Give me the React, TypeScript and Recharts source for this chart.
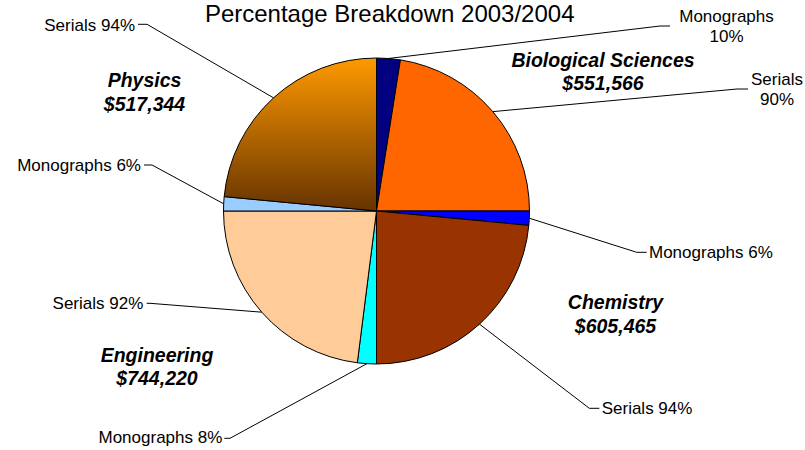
import React from "react";
import { PieChart, Pie, Cell } from "recharts";

const departments = ["Biological Sciences", "Chemistry", "Engineering", "Physics"];
const departmentTotals = ["$551,566", "$605,465", "$744,220", "$517,344"];
const monographPct = [10, 6, 8, 6];
const serialPct = [90, 94, 92, 94];
const monographColors = ["#000080", "#0000FF", "#00FFFF", "#99CCFF"];
const serialColors = ["#FF6600", "#993300", "#FFCC99", "url(#physicsFill)"];

const FONT = "'Liberation Sans', Arial, sans-serif";

// leader line elbow / end and text spot, relative to pie centre
const labelLayout = [
  { ex: 283.5, ey: -185, lx: 293.5, tx: 350, ty: -189.3, anchor: "middle", stacked: true },
  { ex: 360.5, ey: -122, lx: 371.5, tx: 400.5, ty: -126, anchor: "middle", stacked: true },
  { ex: 260.2, ey: 41.3, lx: 270.2, tx: 272.5, ty: 47.3, anchor: "start", stacked: false },
  { ex: 212.8, ey: 197.3, lx: 222.8, tx: 225.2, ty: 203.3, anchor: "start", stacked: false },
  { ex: -146.5, ey: 227.3, lx: -152.2, tx: -154.2, ty: 232.3, anchor: "end", stacked: false },
  { ex: -226.5, ey: 92.3, lx: -229.8, tx: -233.2, ty: 98.3, anchor: "end", stacked: false },
  { ex: -224.5, ey: -46, lx: -232.5, tx: -235.5, ty: -40, anchor: "end", stacked: false },
  { ex: -229.5, ey: -186.7, lx: -238.5, tx: -241.5, ty: -180.5, anchor: "end", stacked: false },
];

// department caption spots, relative to pie centre
const deptLayout = [
  { dx: 226.5, dy: -144.3 },
  { dx: 239, dy: 98.3 },
  { dx: -219.5, dy: 150.7 },
  { dx: -232, dy: -124 },
];

const slices = departments.flatMap((d, i) => [
  { name: "Monographs", dept: i, value: monographPct[i], fill: monographColors[i] },
  { name: "Serials", dept: i, value: serialPct[i], fill: serialColors[i] },
]);

const RAD = Math.PI / 180;

const renderLabel = (props: any) => {
  const { cx, cy, midAngle, outerRadius, index } = props;
  const s = slices[index];
  const l = labelLayout[index];
  const px = cx + outerRadius * Math.cos(-midAngle * RAD);
  const py = cy + outerRadius * Math.sin(-midAngle * RAD);
  const lines = l.stacked ? [s.name, `${s.value}%`] : [`${s.name} ${s.value}%`];
  const isSerial = s.name === "Serials";
  const dl = deptLayout[s.dept];
  return (
    <g key={`lbl-${index}`}>
      <polyline
        points={`${px},${py} ${cx + l.ex},${cy + l.ey} ${cx + l.lx},${cy + l.ey}`}
        fill="none"
        stroke="#000"
        strokeWidth={1}
      />
      {lines.map((t, k) => (
        <text
          key={k}
          x={cx + l.tx}
          y={cy + l.ty + k * 20}
          textAnchor={l.anchor}
          fontFamily={FONT}
          fontSize={17}
          fill="#000"
        >
          {t}
        </text>
      ))}
      {isSerial && (
        <text
          x={cx + dl.dx}
          y={cy + dl.dy}
          textAnchor="middle"
          fontFamily={FONT}
          fontSize={19.5}
          fontWeight="bold"
          fontStyle="italic"
          fill="#000"
        >
          <tspan x={cx + dl.dx}>{departments[s.dept]}</tspan>
          <tspan x={cx + dl.dx} dy={23.5}>{departmentTotals[s.dept]}</tspan>
        </text>
      )}
    </g>
  );
};

export default function App() {
  return (
    <div style={{ position: "absolute", left: 0, top: 0, width: 805, height: 450, background: "#fff" }}>
      <svg width={805} height={450} style={{ position: "absolute", left: 0, top: 0 }}>
        <text x={389.7} y={22} textAnchor="middle" fontFamily={FONT} fontSize={24} fill="#000">
          Percentage Breakdown 2003/2004
        </text>
      </svg>
      <div style={{ position: "absolute", left: 0, top: 0 }}>
        <PieChart width={805} height={450} margin={{ top: 0, right: 0, bottom: 0, left: 0 }}>
          <defs>
            <linearGradient id="physicsFill" x1="0" y1="0" x2="0" y2="1">
              <stop offset="0%" stopColor="#FF9900" />
              <stop offset="100%" stopColor="#663300" />
            </linearGradient>
          </defs>
          <Pie
            data={slices}
            dataKey="value"
            nameKey="name"
            cx={376.5}
            cy={211}
            outerRadius={153}
            startAngle={90}
            endAngle={-270}
            stroke="#000"
            strokeWidth={1}
            label={renderLabel}
            labelLine={false}
            isAnimationActive={false}
          >
            {slices.map((s, i) => (
              <Cell key={i} fill={s.fill} />
            ))}
          </Pie>
        </PieChart>
      </div>
    </div>
  );
}
